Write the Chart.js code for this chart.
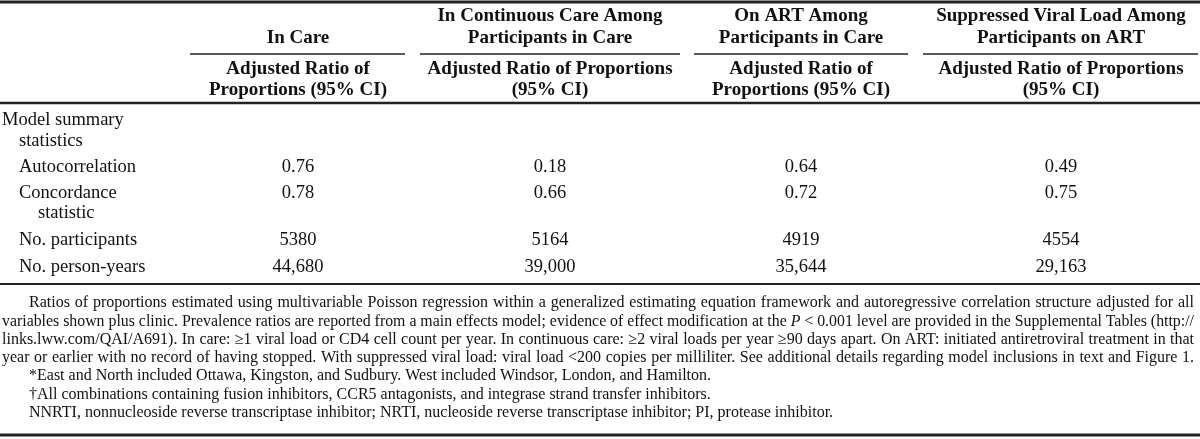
<!DOCTYPE html>
<html>
<head>
<meta charset="utf-8">
<script src="https://cdn.jsdelivr.net/npm/chart.js@4.4.1/dist/chart.umd.min.js"></script>
<style>
html,body{margin:0;padding:0;background:#ffffff;}
#wrap{width:1200px;height:439px;position:relative;}
</style>
</head>
<body>
<div id="wrap"><canvas id="c" width="1200" height="439"></canvas></div>
<script>
// ---------------- DATA ----------------
const columnHeaders = [
  ['In Care'],
  ['In Continuous Care Among', 'Participants in Care'],
  ['On ART Among', 'Participants in Care'],
  ['Suppressed Viral Load Among', 'Participants on ART']
];
const subHeaders = [
  ['Adjusted Ratio of', 'Proportions (95% CI)'],
  ['Adjusted Ratio of Proportions', '(95% CI)'],
  ['Adjusted Ratio of', 'Proportions (95% CI)'],
  ['Adjusted Ratio of Proportions', '(95% CI)']
];
const sectionLabel = ['Model summary', 'statistics'];
const rowLabels = [
  ['Autocorrelation'],
  ['Concordance', 'statistic'],
  ['No. participants'],
  ['No. person-years']
];
const autocorrelation = [0.76, 0.18, 0.64, 0.49];
const concordance     = [0.78, 0.66, 0.72, 0.75];
const participants    = [5380, 5164, 4919, 4554];
const personYears     = [44680, 39000, 35644, 29163];
const rowFormats = ['fixed2', 'fixed2', 'plain', 'comma'];
const footnoteParagraph = [
  'Ratios of proportions estimated using multivariable Poisson regression within a generalized estimating equation framework and autoregressive correlation structure adjusted for all',
  'variables shown plus clinic. Prevalence ratios are reported from a main effects model; evidence of effect modification at the _P_ < 0.001 level are provided in the Supplemental Tables (http://',
  'links.lww.com/QAI/A691). In care: \u22651 viral load or CD4 cell count per year. In continuous care: \u22652 viral loads per year \u226590 days apart. On ART: initiated antiretroviral treatment in that',
  'year or earlier with no record of having stopped. With suppressed viral load: viral load <200 copies per milliliter. See additional details regarding model inclusions in text and Figure 1.'
];
const footnoteNotes = [
  '*East and North included Ottawa, Kingston, and Sudbury. West included Windsor, London, and Hamilton.',
  '\u2020All combinations containing fusion inhibitors, CCR5 antagonists, and integrase strand transfer inhibitors.',
  'NNRTI, nonnucleoside reverse transcriptase inhibitor; NRTI, nucleoside reverse transcriptase inhibitor; PI, protease inhibitor.'
];

// ---------------- LAYOUT ----------------
const L = {
  width: 1200, height: 439,
  colCenter: [298, 550, 801, 1061],
  colSpan: [[190, 405], [420, 680], [694, 908], [923, 1198]],
  headY: [16, 38], subY: [69, 90], underY: 54,
  topRule: 2, headRule: 103, bodyRule: 284, bottomRule: 435,
  sectionY: [120, 141], sectionX: [2, 19],
  rowY: [167, 193, 240, 267], rowLineGap: 20, rowX: 19, rowX2: 38,
  footY0: 303, footStep: 18.3, footLeft: 2, footIndent: 29, footRight: 1194,
  fontHead: 'bold 19px "Liberation Serif", "Times New Roman", serif',
  fontBody: '18.5px "Liberation Serif", "Times New Roman", serif',
  fontFoot: '16px "Liberation Serif", "Times New Roman", serif',
  fontFootIt: 'italic 16px "Liberation Serif", "Times New Roman", serif',
  ink: '#111111', rule: '#222222'
};

const statRows = [autocorrelation, concordance, participants, personYears];
function fmt(v, f) {
  if (f === 'fixed2') return v.toFixed(2);
  if (f === 'comma') return v.toLocaleString('en-US');
  return String(v);
}

const datasets = statRows.map((vals, r) => ({
  label: rowLabels[r].join(' '),
  data: vals.map((v, c) => ({ x: L.colCenter[c], y: L.rowY[r], v: v })),
  pointRadius: 0, pointHoverRadius: 0, showLine: false,
  format: rowFormats[r]
}));

const tablePlugin = {
  id: 'tableDraw',
  afterDatasetsDraw(chart) {
    const ctx = chart.ctx;
    const xs = chart.scales.x, ys = chart.scales.y;
    const X = v => xs.getPixelForValue(v), Y = v => ys.getPixelForValue(v);
    ctx.save();
    ctx.fillStyle = L.ink;
    ctx.textBaseline = 'middle';

    function hline(x0, x1, yy, w) {
      ctx.beginPath();
      ctx.strokeStyle = L.rule;
      ctx.lineWidth = w;
      ctx.moveTo(X(x0), Y(yy));
      ctx.lineTo(X(x1), Y(yy));
      ctx.stroke();
    }
    // rules
    hline(0, L.width, L.topRule, 3);
    hline(0, L.width, L.headRule, 2.5);
    hline(0, L.width, L.bodyRule, 2);
    hline(0, L.width, L.bottomRule, 3);
    L.colSpan.forEach(s => hline(s[0], s[1], L.underY, 1.5));

    // header
    ctx.font = L.fontHead;
    ctx.textAlign = 'center';
    columnHeaders.forEach((lines, c) => {
      const start = 2 - lines.length;
      lines.forEach((t, i) => ctx.fillText(t, X(L.colCenter[c]), Y(L.headY[start + i])));
    });
    subHeaders.forEach((lines, c) => {
      lines.forEach((t, i) => ctx.fillText(t, X(L.colCenter[c]), Y(L.subY[i])));
    });

    // stub
    ctx.font = L.fontBody;
    ctx.textAlign = 'left';
    sectionLabel.forEach((t, i) => ctx.fillText(t, X(L.sectionX[i]), Y(L.sectionY[i])));
    rowLabels.forEach((lines, r) => {
      lines.forEach((t, i) => ctx.fillText(t, X(i === 0 ? L.rowX : L.rowX2), Y(L.rowY[r] + i * L.rowLineGap)));
    });

    // values from dataset elements
    ctx.textAlign = 'center';
    chart.data.datasets.forEach((ds, di) => {
      const meta = chart.getDatasetMeta(di);
      meta.data.forEach((el, j) => {
        ctx.fillText(fmt(ds.data[j].v, ds.format), el.x, el.y);
      });
    });

    // footnotes
    ctx.textAlign = 'left';
    function drawLine(text, x0, x1, yy, justify) {
      const words = text.split(' ').map(w => {
        const it = /^_.*_$/.test(w);
        return { t: it ? w.slice(1, -1) : w, it };
      });
      ctx.font = L.fontFoot;
      const sp = ctx.measureText(' ').width;
      const widths = words.map(w => { ctx.font = w.it ? L.fontFootIt : L.fontFoot; return ctx.measureText(w.t).width; });
      const natural = widths.reduce((a, b) => a + b, 0) + sp * (words.length - 1);
      const avail = X(x1) - X(x0);
      let extra = justify ? (avail - natural) / (words.length - 1) : 0;
      let squeeze = 1;
      if (natural > avail) { extra = 0; squeeze = avail / natural; }
      let cx = X(x0);
      words.forEach((w, i) => {
        ctx.font = w.it ? L.fontFootIt : L.fontFoot;
        if (squeeze < 1) {
          ctx.save(); ctx.translate(cx, Y(yy)); ctx.scale(squeeze, 1);
          ctx.fillText(w.t, 0, 0); ctx.restore();
          cx += (widths[i] + sp) * squeeze;
        } else {
          ctx.fillText(w.t, cx, Y(yy));
          cx += widths[i] + sp + extra;
        }
      });
    }
    let line = 0;
    footnoteParagraph.forEach((t, i) => {
      drawLine(t, i === 0 ? L.footIndent : L.footLeft, L.footRight, L.footY0 + line * L.footStep, true);
      line++;
    });
    footnoteNotes.forEach(t => {
      drawLine(t, L.footIndent, L.footRight, L.footY0 + line * L.footStep, false);
      line++;
    });
    ctx.restore();
  }
};

new Chart(document.getElementById('c'), {
  type: 'scatter',
  data: { datasets },
  options: {
    responsive: false,
    maintainAspectRatio: false,
    devicePixelRatio: 1,
    animation: false,
    events: [],
    layout: { padding: 0 },
    plugins: { legend: { display: false }, tooltip: { enabled: false } },
    scales: {
      x: { type: 'linear', min: 0, max: L.width, display: false },
      y: { type: 'linear', min: 0, max: L.height, reverse: true, display: false }
    }
  },
  plugins: [tablePlugin]
});
</script>
</body>
</html>
